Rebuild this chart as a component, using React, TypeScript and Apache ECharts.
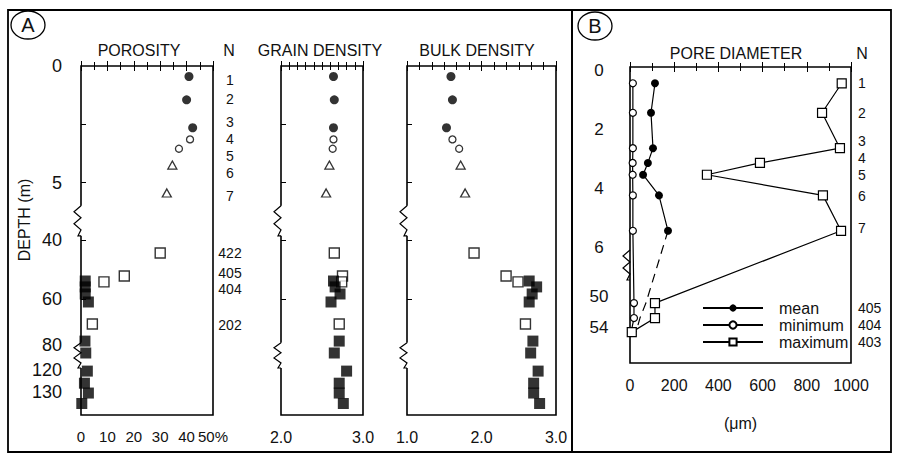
import React, { useEffect, useRef } from "react";
import * as echarts from "echarts";

// ---------------- DATA ----------------
// Shallow samples N = 1..7 (depth in m)
const shallowN = ["1", "2", "3", "4", "5", "6", "7"];
const shallowDepth = [0.45, 1.45, 2.65, 3.15, 3.55, 4.25, 5.45];

// Panel A – shallow samples (1-3 filled circles, 4-5 open circles, 6-7 triangles)
const porosityShallow = [40.9, 40.0, 42.3, 41.3, 37.1, 34.6, 32.5];
const grainShallow = [2.64, 2.65, 2.64, 2.64, 2.63, 2.59, 2.55];
const bulkShallow = [1.59, 1.61, 1.53, 1.61, 1.7, 1.72, 1.78];

// Panel A – open squares (N 422, 405, 404, 202)
const openSqN = ["422", "405", "404", "202"];
const openSqDepthA = [44.4, 52.2, 54.2, 70.9];
const porosityOpenSq = [30.0, 16.4, 8.7, 4.3];
const grainOpenSq = [2.65, 2.75, 2.74, 2.71];
const bulkOpenSq = [1.9, 2.33, 2.49, 2.59];

// Panel A – filled squares (deep core samples)
const coreDepthA = [53.9, 55.9, 58.3, 61.3, 78.3, 84.0, 120.5, 126.0, 130.5, 135.5];
const porosityCore = [1.6, 1.6, 1.6, 2.8, 1.5, 1.8, 2.4, 1.3, 2.8, 0.3];
const grainCore = [2.64, 2.66, 2.72, 2.61, 2.71, 2.65, 2.8, 2.71, 2.71, 2.76];
const bulkCore = [2.64, 2.74, 2.68, 2.64, 2.69, 2.66, 2.76, 2.7, 2.7, 2.78];

// Panel A axis labels
const depthLabelsA = [0, 5, 40, 60, 80, 120, 130];
const depthTicksA = [2.5, 5, 40, 60];
const nLabelsA = ["1", "2", "3", "4", "5", "6", "7", "422", "405", "404", "202"];
const nLabelDepthA = [0.6, 1.42, 2.4, 3.13, 3.86, 4.59, 5.58, 44.4, 51.2, 56.6, 71.3];

// Panel B – pore diameter (µm)
const poreMean = [113, 95, 104, 81, 59, 131, 172];
const poreMin = [13, 13, 13, 12, 12, 13, 13];
const poreMax = [958, 869, 950, 588, 348, 873, 955];
const deepNB = ["405", "404", "403"];
const deepDepthB = [50.9, 52.8, 54.6];
const poreMinDeep = [18, 18, 5];
const poreMaxDeep = [113, 113, 8];
const poreMeanTrendDeep = [72, 45, 27];

const depthLabelsB = [0, 2, 4, 6, 50, 54];
const nLabelsB = ["1", "2", "3", "4", "5", "6", "7", "405", "404", "403"];
const nLabelDepthB = [0.44, 1.46, 2.41, 2.98, 3.56, 4.27, 5.36, 51.52, 53.68, 55.88];

// Broken depth axes: depth -> offset inside the plot box (hand-drawn scales)
const scaleAnchorsA = {
  depth: [0, 6.3, 38, 40, 60, 80, 84, 118, 120, 130, 141],
  offset: [0, 146.8, 168, 174, 233, 279, 287, 300, 304, 326, 349],
};
const scaleAnchorsB = {
  depth: [-0.1, 0, 6.2, 48, 50, 54, 58.6],
  offset: [0, 3, 185.9, 213, 229, 260.5, 296],
};
const breaksA = [
  [6.0, 38.6],
  [79, 119],
];
const breaksB = [[6.1, 48]];

// ---------------- helpers ----------------
const FONT = '"Liberation Sans", Arial, Helvetica, sans-serif';
const INK = "#111";

function makeScale(a: { depth: number[]; offset: number[] }) {
  const d = a.depth;
  const o = a.offset;
  return (v: number) => {
    let i = 0;
    while (i < d.length - 2 && v > d[i + 1]) i++;
    const t = (v - d[i]) / (d[i + 1] - d[i]);
    return o[i] + t * (o[i + 1] - o[i]);
  };
}

const toYA = makeScale(scaleAnchorsA);
const toYB = makeScale(scaleAnchorsB);

function nearestLabel(v: number, values: number[], labels: string[]) {
  let best = 0;
  for (let i = 1; i < values.length; i++) {
    if (Math.abs(values[i] - v) < Math.abs(values[best] - v)) best = i;
  }
  return labels[best];
}

const pairs = (xs: number[], ds: number[], f: (d: number) => number) =>
  xs.map((x, i) => [x, f(ds[i])]);

// layout
const GA = { top: 66, height: scaleAnchorsA.offset[scaleAnchorsA.offset.length - 1] };
const GB = { top: 67, height: scaleAnchorsB.offset[scaleAnchorsB.offset.length - 1] };
const gridPor = { left: 81, width: 132 };
const gridGrain = { left: 281, width: 82 };
const gridBulk = { left: 407, width: 149 };
const gridPore = { left: 630, width: 221 };

function xAxisPair(
  gridIndex: number,
  min: number,
  max: number,
  interval: number,
  minorSplit: number,
  fmt: (v: number) => string,
  fontSize: number,
  extra: any = {}
) {
  const common = {
    type: "value",
    gridIndex,
    min,
    max,
    interval,
    splitLine: { show: false },
    minorSplitLine: { show: false },
    axisLine: { show: false },
    axisTick: { show: true, inside: true, length: 5, lineStyle: { color: "#000", width: 1 } },
    minorTick: { show: true, splitNumber: minorSplit, length: 4, lineStyle: { color: "#000", width: 1 } },
  };
  return [
    {
      ...common,
      position: "bottom",
      axisLabel: {
        show: true,
        margin: 14,
        fontFamily: FONT,
        fontSize,
        color: INK,
        showMinLabel: true,
        showMaxLabel: true,
        formatter: fmt,
      },
      ...extra,
    },
    { ...common, position: "top", axisLabel: { show: false } },
  ];
}

function depthAxis(
  gridIndex: number,
  H: number,
  toY: (d: number) => number,
  labels: number[] | null,
  ticks: number[] | null,
  labelOpts: any
) {
  const labVals = labels ? labels.map(toY) : [];
  const labTxt = labels ? labels.map((v) => String(v)) : [];
  return {
    type: "value",
    gridIndex,
    min: 0,
    max: H,
    inverse: true,
    position: "left",
    splitLine: { show: false },
    axisLine: { show: false },
    axisTick: ticks
      ? { show: true, inside: true, length: 5, customValues: ticks.map(toY), lineStyle: { color: "#000" } }
      : { show: false },
    axisLabel: labels
      ? {
          show: true,
          customValues: labVals,
          formatter: (v: number) => nearestLabel(v, labVals, labTxt),
          fontFamily: FONT,
          color: INK,
          hideOverlap: false,
          showMinLabel: true,
          showMaxLabel: true,
          ...labelOpts,
        }
      : { show: false },
  };
}

function nAxis(gridIndex: number, H: number, toY: (d: number) => number, labels: string[], depths: number[], labelOpts: any) {
  const vals = depths.map(toY);
  return {
    type: "value",
    gridIndex,
    min: 0,
    max: H,
    inverse: true,
    position: "right",
    splitLine: { show: false },
    axisLine: { show: false },
    axisTick: { show: false },
    axisLabel: {
      show: true,
      customValues: vals,
      formatter: (v: number) => nearestLabel(v, vals, labels),
      fontFamily: FONT,
      fontSize: 14,
      lineHeight: 12,
      color: INK,
      hideOverlap: false,
      showMinLabel: true,
      showMaxLabel: true,
      ...labelOpts,
    },
  };
}

const symFilledCircle = { symbol: "circle", symbolSize: 9, itemStyle: { color: "#000" } };
const symOpenCircle = {
  symbol: "circle",
  symbolSize: 7,
  itemStyle: { color: "#fff", borderColor: "#000", borderWidth: 1.3 },
};
const symTriangle = {
  symbol: "triangle",
  symbolSize: [9, 8],
  itemStyle: { color: "#fff", borderColor: "#000", borderWidth: 1.3 },
};
const symOpenSquare = {
  symbol: "rect",
  symbolSize: 10,
  itemStyle: { color: "#fff", borderColor: "#000", borderWidth: 1.4 },
};
const symFilledSquare = { symbol: "rect", symbolSize: 11, itemStyle: { color: "#000" } };

function panelASeries(name: string, xIdx: number, yIdx: number, shallow: number[], openSq: number[], core: number[]) {
  const base = { type: "scatter", xAxisIndex: xIdx, yAxisIndex: yIdx, z: 3 };
  return [
    { ...base, name: name + " 1-3", ...symFilledCircle, data: pairs(shallow.slice(0, 3), shallowDepth.slice(0, 3), toYA) },
    { ...base, name: name + " 4-5", ...symOpenCircle, data: pairs(shallow.slice(3, 5), shallowDepth.slice(3, 5), toYA) },
    { ...base, name: name + " 6-7", ...symTriangle, data: pairs(shallow.slice(5, 7), shallowDepth.slice(5, 7), toYA) },
    { ...base, name: name + " open", ...symOpenSquare, data: pairs(openSq, openSqDepthA, toYA) },
    { ...base, name: name + " core", ...symFilledSquare, data: pairs(core, coreDepthA, toYA) },
  ];
}

function zigzag(L: number, y1: number, y2: number, cover: boolean): any[] {
  const h = y2 - y1;
  const pts = [
    [L, y1],
    [L - 7, y1 + 0.2 * h],
    [L, y1 + 0.4 * h],
    [L - 7, y1 + 0.6 * h],
    [L, y1 + 0.8 * h],
    [L - 3, y2],
    [L, y2],
  ];
  const els: any[] = [];
  if (cover) {
    els.push({
      type: "rect",
      z: 1,
      shape: { x: L - 2, y: y1, width: 4, height: h },
      style: { fill: "#fff" },
    });
  }
  els.push({
    type: "polyline",
    z: 1,
    shape: { points: pts },
    style: { stroke: "#000", lineWidth: 1.2, fill: "none" },
  });
  return els;
}

function label(text: string, x: number, y: number, size: number, extra: any = {}) {
  return {
    type: "text",
    x,
    y,
    z: 5,
    ...extra,
    style: {
      text,
      font: `${size}px ${FONT}`,
      fill: INK,
      align: "center",
      verticalAlign: "middle",
      textAlign: "center",
      textVerticalAlign: "middle",
    },
  };
}

export default function App() {
  const ref = useRef<HTMLDivElement>(null);

  useEffect(() => {
    if (!ref.current) return;
    const chart = echarts.init(ref.current, undefined, { renderer: "svg" });

    const gridCommon = { show: true, borderColor: "#000", borderWidth: 1.6, backgroundColor: "transparent" };

    const graphics: any[] = [
      // outer frames
      {
        type: "rect",
        z: 0,
        shape: { x: 8, y: 10, width: 564, height: 442 },
        style: { fill: "none", stroke: "#000", lineWidth: 1.8 },
      },
      {
        type: "rect",
        z: 0,
        shape: { x: 572, y: 10, width: 319, height: 442 },
        style: { fill: "none", stroke: "#000", lineWidth: 1.8 },
      },
      // panel letters
      {
        type: "ellipse",
        z: 2,
        shape: { cx: 28, cy: 25, rx: 17, ry: 14 },
        style: { fill: "#fff", stroke: "#000", lineWidth: 1.3 },
      },
      label("A", 28, 25, 20),
      {
        type: "ellipse",
        z: 2,
        shape: { cx: 595, cy: 26, rx: 17, ry: 14 },
        style: { fill: "#fff", stroke: "#000", lineWidth: 1.3 },
      },
      label("B", 595, 26, 20),
      // headers
      label("POROSITY", 139, 50, 16),
      label("N", 229, 50, 16),
      label("GRAIN DENSITY", 320, 50, 16),
      label("BULK DENSITY", 477, 50, 16),
      label("PORE DIAMETER", 736, 53, 16),
      label("N", 862, 53, 16),
      label("DEPTH (m)", 24, 220, 16, { rotation: Math.PI / 2 }),
    ];

    for (const L of [gridPor.left, gridGrain.left, gridBulk.left]) {
      for (const [a, b] of breaksA) {
        graphics.push(...zigzag(L, GA.top + toYA(a), GA.top + toYA(b), true));
      }
    }
    for (const [a, b] of breaksB) {
      graphics.push(...zigzag(gridPore.left, GB.top + toYB(a), GB.top + toYB(b), false));
    }

    const fmtPor = (v: number) => (v === 50 ? "50%" : String(v));
    const fmt1 = (v: number) => v.toFixed(1);
    const fmtInt = (v: number) => String(v);

    const lineBase = { type: "line", xAxisIndex: 6, yAxisIndex: 4, z: 3 };

    const option: any = {
      animation: false,
      backgroundColor: "#fff",
      textStyle: { fontFamily: FONT },
      grid: [
        { ...gridCommon, left: gridPor.left, width: gridPor.width, top: GA.top, height: GA.height },
        { ...gridCommon, left: gridGrain.left, width: gridGrain.width, top: GA.top, height: GA.height },
        { ...gridCommon, left: gridBulk.left, width: gridBulk.width, top: GA.top, height: GA.height },
        { ...gridCommon, left: gridPore.left, width: gridPore.width, top: GB.top, height: GB.height },
      ],
      xAxis: [
        ...xAxisPair(0, 0, 50, 10, 2, fmtPor, 15),
        ...xAxisPair(1, 2, 3, 1, 10, fmt1, 16),
        ...xAxisPair(2, 1, 3, 1, 6, fmt1, 16),
        ...xAxisPair(3, 0, 1000, 200, 2, fmtInt, 16, {
          name: "(μm)",
          nameLocation: "middle",
          nameGap: 52,
          nameTextStyle: { fontFamily: FONT, fontSize: 16, color: INK },
        }),
      ],
      yAxis: [
        depthAxis(0, GA.height, toYA, depthLabelsA, depthTicksA, { fontSize: 18, align: "right", margin: 19 }),
        nAxis(0, GA.height, toYA, nLabelsA, nLabelDepthA, { align: "center", margin: 17 }),
        depthAxis(1, GA.height, toYA, null, depthTicksA, {}),
        depthAxis(2, GA.height, toYA, null, depthTicksA, {}),
        depthAxis(3, GB.height, toYB, depthLabelsB, null, { fontSize: 17, align: "center", margin: 31 }),
        nAxis(3, GB.height, toYB, nLabelsB, nLabelDepthB, { align: "left", margin: 7 }),
      ],
      legend: {
        data: ["mean", "minimum", "maximum"],
        orient: "vertical",
        left: 697,
        top: 295,
        itemWidth: 60,
        itemHeight: 9,
        itemGap: 1,
        formatter: (name: string) => `{t|${name}}`,
        textStyle: {
          fontFamily: FONT,
          fontSize: 16,
          color: INK,
          rich: { t: { fontFamily: FONT, fontSize: 16, color: INK, padding: [0, 0, 0, 11] } },
        },
      },
      graphic: { elements: graphics },
      series: [
        ...panelASeries("porosity", 0, 0, porosityShallow, porosityOpenSq, porosityCore),
        ...panelASeries("grain", 2, 2, grainShallow, grainOpenSq, grainCore),
        ...panelASeries("bulk", 4, 3, bulkShallow, bulkOpenSq, bulkCore),
        {
          ...lineBase,
          name: "minimum",
          symbol: "circle",
          symbolSize: 7,
          itemStyle: { color: "#fff", borderColor: "#000", borderWidth: 1.2 },
          lineStyle: { color: "#000", width: 1.2 },
          data: pairs([...poreMin, ...poreMinDeep], [...shallowDepth, ...deepDepthB], toYB),
        },
        {
          ...lineBase,
          name: "maximum",
          symbol: "rect",
          symbolSize: 9,
          itemStyle: { color: "#fff", borderColor: "#000", borderWidth: 1.2 },
          lineStyle: { color: "#000", width: 1.2 },
          data: pairs([...poreMax, ...poreMaxDeep], [...shallowDepth, ...deepDepthB], toYB),
        },
        {
          ...lineBase,
          name: "mean trend",
          symbol: "none",
          lineStyle: { color: "#000", width: 1.2, type: [9, 6] },
          data: pairs(
            [poreMean[poreMean.length - 1], ...poreMeanTrendDeep],
            [shallowDepth[shallowDepth.length - 1], ...deepDepthB],
            toYB
          ),
        },
        {
          ...lineBase,
          name: "mean",
          symbol: "circle",
          symbolSize: 8,
          itemStyle: { color: "#000" },
          lineStyle: { color: "#000", width: 1.2 },
          data: pairs(poreMean, shallowDepth, toYB),
        },
      ],
    };

    chart.setOption(option);
    return () => chart.dispose();
  }, []);

  return (
    <div
      ref={ref}
      style={{ position: "fixed", left: 0, top: 0, width: 898, height: 456, background: "#fff" }}
    />
  );
}
